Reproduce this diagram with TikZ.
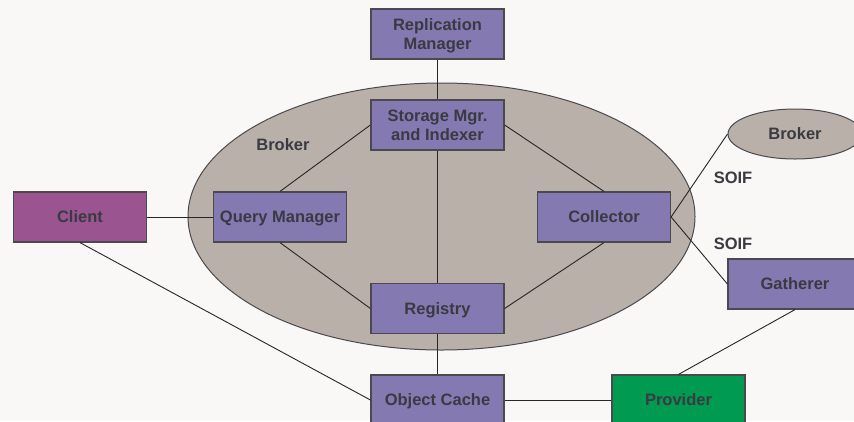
\documentclass[tikz,border=0pt]{standalone}
\usepackage{fontspec}
\setmainfont{Liberation Sans}
\usetikzlibrary{shapes.geometric}
\definecolor{bgcol}{HTML}{F9F8F6}
\definecolor{boxcol}{HTML}{8479B1}
\definecolor{brokercol}{HTML}{BAB0AA}
\definecolor{clientcol}{HTML}{9A5490}
\definecolor{providercol}{HTML}{009A50}
\definecolor{edgecol}{HTML}{4A4A4E}
\definecolor{txtcol}{HTML}{3A3A42}
\tikzset{
  comp/.style={rectangle, draw=edgecol, line width=1.2pt, fill=boxcol,
    minimum width=133pt, minimum height=50pt, inner sep=0pt, align=center,
    text depth=0pt, text=txtcol, font=\fontsize{16.5}{19.5}\selectfont\bfseries},
  region/.style={ellipse, draw=edgecol, line width=1pt, fill=brokercol, inner sep=0pt},
  lbl/.style={text=txtcol, font=\fontsize{16.5}{19.5}\selectfont\bfseries, inner sep=0pt},
  link/.style={draw=black!85, line width=0.9pt}
}
\begin{document}
\begin{tikzpicture}[x=1pt,y=-1pt]
  \useasboundingbox (0,0) rectangle (854,421);
  \fill[bgcol] (0,0) rectangle (854,421);

  % broker regions
  \node[region, minimum width=507pt, minimum height=267pt] (broker) at (441.5,216.5) {};
  \node[lbl] (brokerlbl) at (283,145) {Broker};
  \node[region, minimum width=134pt, minimum height=50pt, text=txtcol,
        font=\fontsize{16.5}{19.5}\selectfont\bfseries] (peer) at (795,134) {Broker};

  % components
  \node[comp] (repl)    at (437.5,34)  {Replication\\Manager};
  \node[comp] (storage) at (437.5,125) {Storage Mgr.\\and Indexer};
  \node[comp] (query)   at (280,217)   {Query Manager};
  \node[comp, fill=clientcol] (client) at (80,217) {Client};
  \node[comp] (collect) at (604,217)   {Collector};
  \node[comp] (registry) at (437.5,308.5) {Registry};
  \node[comp] (cache)   at (437.5,400) {Object Cache};
  \node[comp, fill=providercol] (provider) at (678.5,400) {Provider};
  \node[comp, minimum width=134pt] (gather) at (795,284) {Gatherer};

  % protocol labels
  \node[lbl] (soifa) at (733,178) {SOIF};
  \node[lbl] (soifb) at (733,244) {SOIF};

  % connections
  \draw[link] (repl.south) -- (storage.north);
  \draw[link] (storage.west) -- (query.north);
  \draw[link] (storage.east) -- (collect.north);
  \draw[link] (storage.south) -- (registry.north);
  \draw[link] (query.south) -- (registry.west);
  \draw[link] (collect.south) -- (registry.east);
  \draw[link] (client.east) -- (query.west);
  \draw[link] (client.south) -- (cache.west);
  \draw[link] (registry.south) -- (cache.north);
  \draw[link] (cache.east) -- (provider.west);
  \draw[link] (collect.east) -- (peer.west);
  \draw[link] (collect.east) -- (gather.west);
  \draw[link] (gather.south) -- (provider.north);
\end{tikzpicture}
\end{document}
